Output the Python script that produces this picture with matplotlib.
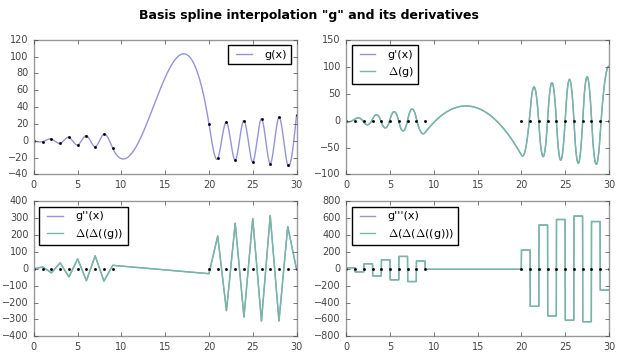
import numpy as np
import matplotlib
matplotlib.use("Agg")
import matplotlib.pyplot as plt

# knots of the interpolation
x_knots = [0, 1, 2, 3, 4, 5, 6, 7, 8, 9,
           20, 21, 22, 23, 24, 25, 26, 27, 28, 29, 30]
y_knots = [0, -1, 2, -3, 4, -5, 6, -7, 8, -9,
           20, -21, 22, -23, 24, -25, 26, -27, 28, -29, 30]

line_color = "#9494d8"
diff_color = "#74b9a0"


# natural cubic spline through the knots
def natural_spline(xk, yk):
    xk = np.asarray(xk, float)
    yk = np.asarray(yk, float)
    n = len(xk)
    h = np.diff(xk)
    A = np.zeros((n, n))
    r = np.zeros(n)
    A[0, 0] = 1
    A[-1, -1] = 1
    for i in range(1, n - 1):
        A[i, i - 1] = h[i - 1]
        A[i, i] = 2 * (h[i - 1] + h[i])
        A[i, i + 1] = h[i]
        r[i] = 6 * ((yk[i + 1] - yk[i]) / h[i] - (yk[i] - yk[i - 1]) / h[i - 1])
    M = np.linalg.solve(A, r)
    b = (yk[1:] - yk[:-1]) / h - h * (2 * M[:-1] + M[1:]) / 6
    c = M[:-1] / 2
    d = (M[1:] - M[:-1]) / (6 * h)
    return xk, yk, b, c, d


def evaluate(spl, x, der=0):
    xk, yk, b, c, d = spl
    i = np.clip(np.searchsorted(xk, x, side="right") - 1, 0, len(b) - 1)
    t = x - xk[i]
    if der == 0:
        return yk[i] + b[i] * t + c[i] * t**2 + d[i] * t**3
    if der == 1:
        return b[i] + 2 * c[i] * t + 3 * d[i] * t**2
    if der == 2:
        return 2 * c[i] + 6 * d[i] * t
    return 6 * d[i]


spl = natural_spline(x_knots, y_knots)
x = np.linspace(0, 30, 3001)
dx = x[1] - x[0]
g = evaluate(spl, x)

plt.style.use("classic")
plt.rcParams["font.size"] = 7
plt.rcParams["legend.fontsize"] = 8
plt.rcParams["lines.linewidth"] = 1.0

fig, axes = plt.subplots(2, 2, figsize=(6.17, 3.54), dpi=100)
fig.patch.set_facecolor("white")
fig.subplots_adjust(left=0.055, right=0.987, top=0.888, bottom=0.05,
                    wspace=0.19, hspace=0.2)
fig.suptitle('Basis spline interpolation "g" and its derivatives',
             fontsize=9, fontweight="bold", y=0.975)

# g(x)
ax = axes[0, 0]
ax.plot(x, g, color=line_color, label="g(x)")
ax.plot(x_knots, y_knots, "k.", markersize=3)
ax.set_ylim(-40, 120)
ax.legend(loc="upper right")

labels = ["g'(x)", "g''(x)", "g'''(x)"]
diff_labels = [r"$\Delta$(g)", r"$\Delta$($\Delta$((g))", r"$\Delta$($\Delta$($\Delta$((g)))"]
ylims = [(-100, 150), (-400, 400), (-800, 800)]
num = g.copy()
for k, ax in enumerate([axes[0, 1], axes[1, 0], axes[1, 1]]):
    num = np.diff(num) / dx
    xn = x[:len(num)]
    ax.plot(x, evaluate(spl, x, k + 1), color=line_color, label=labels[k])
    ax.plot(xn, num, color=diff_color, label=diff_labels[k])
    ax.plot(x_knots, np.zeros(len(x_knots)), "k.", markersize=3)
    ax.set_ylim(*ylims[k])
    ax.legend(loc="upper left")

for ax in axes.flat:
    ax.set_xlim(0, 30)
    ax.set_xticks([0, 5, 10, 15, 20, 25, 30])
    for s in ax.spines.values():
        s.set_color("#999999")
    ax.tick_params(colors="#444444", length=3)

fig.savefig("out.png", dpi=100, facecolor="white")
